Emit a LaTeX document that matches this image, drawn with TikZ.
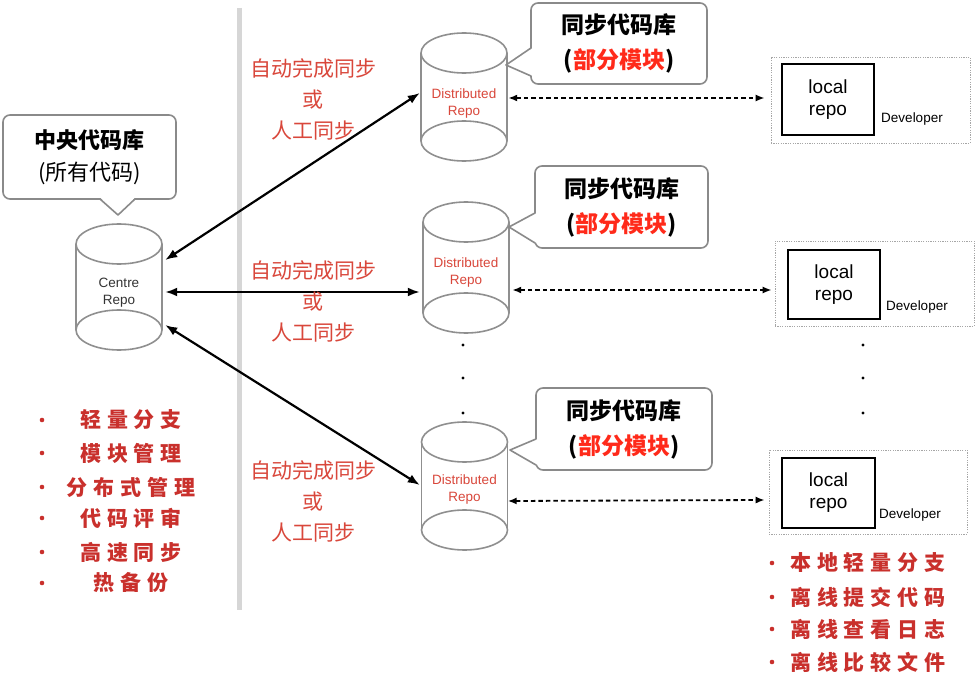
\documentclass[tikz,border=0pt]{standalone}
\usepackage{fontspec}
\setmainfont{Liberation Sans}
\newfontfamily\cjk{Noto Sans CJK SC}
\newfontfamily\cjksp{Noto Sans CJK SC}[LetterSpace=28]
\usetikzlibrary{arrows.meta}
\definecolor{lblred}{HTML}{D9473B}
\definecolor{listred}{HTML}{C9302C}
\definecolor{brightred}{HTML}{FF2A1A}
\definecolor{callgray}{HTML}{8A8A8A}
\definecolor{cylgray}{HTML}{8F8F8F}
\definecolor{divgray}{HTML}{D6D6D6}
\newcommand\repocyl[4]{%
  \node[inner sep=0pt, minimum width=86pt, minimum height={(#4-#3)*1pt}] (#1) at (#2,{(#3+#4)/2}) {};
  \draw[cyl] (#2-43,#3+20) -- (#2-43,#4-20) (#2+43,#3+20) -- (#2+43,#4-20);
  \draw[cyl] (#2,#3+20) ellipse [x radius=43pt, y radius=20pt];
  \draw[cyl] (#2,#4-20) ellipse [x radius=43pt, y radius=20pt];
}
\begin{document}
\begin{tikzpicture}[x=1pt,y=-1pt,
  cyl/.style={draw=cylgray, line width=1.6pt},
  callline/.style={draw=callgray, line width=1.6pt},
  callbox/.style={callline, rounded corners=7pt, fill=white, inner sep=0pt, align=center,
    font={\cjk\fontsize{23}{35}\selectfont\bfseries}},
  syncarrow/.style={line width=2.2pt, {Latex[length=12pt,width=9pt]}-{Latex[length=12pt,width=9pt]}},
  devarrow/.style={line width=1.8pt, dash pattern=on 4.5pt off 3pt, {Latex[length=9pt,width=7pt]}-{Latex[length=9pt,width=7pt]}},
  devbox/.style={draw=gray!70, line width=0.6pt, dash pattern=on 1.2pt off 1.2pt, inner sep=0pt},
  localbox/.style={draw=black, line width=2pt, inner sep=0pt, align=center, font=\fontsize{19}{22}\selectfont},
  devlabel/.style={font=\fontsize{13.5}{15}\selectfont, inner sep=0pt},
  synclabel/.style={text=lblred, align=center, font={\cjk\fontsize{21}{31}\selectfont}},
  listitem/.style={text=listred, font={\cjksp\bfseries\fontsize{21}{24}\selectfont}, inner sep=0pt},
  cyltext/.style={align=center, inner sep=0pt, font=\fontsize{13.5}{17}\selectfont},
  dot/.style={fill=black}
]
\useasboundingbox (0,0) rectangle (975,679);
\fill[white] (0,0) rectangle (975,679);

% divider
\draw[line width=5pt, divgray] (239,8) -- (239,610);

% cylinders
\repocyl{c}{119}{224}{350}
\repocyl{d1}{464}{33}{161}
\repocyl{d2}{466}{202}{333}
\repocyl{d3}{464.5}{422}{550}
\node[cyltext, text=black!80] (ct) at ([yshift=-6]c.center) {Centre\\Repo};
\node[cyltext, text=lblred] (d1t) at ([yshift=-7]d1.center) {Distributed\\Repo};
\node[cyltext, text=lblred] (d2t) at ([yshift=-5]d2.center) {Distributed\\Repo};
\node[cyltext, text=lblred] (d3t) at ([yshift=-4]d3.center) {Distributed\\Repo};

% central callout
\node[callbox, minimum width=173pt, minimum height=84pt, font={\cjk\fontsize{22}{32}\selectfont\bfseries}] (cb0) at (89.5,157)
  {中央代码库\\\mdseries (所有代码)};
\coordinate (tip0) at (118,215);
\fill[white] (100,197.5) -- (tip0) -- (135,197.5) -- cycle;
\draw[callline, line join=round] (100,199) -- (tip0) -- (135,199);

% callouts for distributed repos
\node[callbox, minimum width=176pt, minimum height=81pt] (cb1) at (619,43.5)
  {同步代码库\\(\textcolor{brightred}{部分模块})};
\coordinate (tip1) at (506,65);
\fill[white] (532.5,48) -- (tip1) -- (532.5,76) -- cycle;
\draw[callline, line join=round] (531,48) -- (tip1) -- (531,76);

\node[callbox, minimum width=173pt, minimum height=82pt] (cb2) at (621.5,207)
  {同步代码库\\(\textcolor{brightred}{部分模块})};
\coordinate (tip2) at (509,227);
\fill[white] (536.5,213) -- (tip2) -- (536.5,243) -- cycle;
\draw[callline, line join=round] (535,213) -- (tip2) -- (535,243);

\node[callbox, minimum width=176pt, minimum height=82pt] (cb3) at (624,429)
  {同步代码库\\(\textcolor{brightred}{部分模块})};
\coordinate (tip3) at (510,450);
\fill[white] (537.5,439) -- (tip3) -- (537.5,465) -- cycle;
\draw[callline, line join=round] (536,439) -- (tip3) -- (536,465);

% sync arrows
\draw[syncarrow] ([shift={(3,-27)}]c.east) -- ([shift={(-1,-4)}]d1.west);
\draw[syncarrow] ([shift={(3,5)}]c.east) -- ([shift={(-3,24.5)}]d2.west);
\draw[syncarrow] ([shift={(3,38)}]c.east) -- ([shift={(-1.5,-1)}]d3.west);

% sync labels
\node[synclabel] (s1) at (313,99) {自动完成同步\\或\\人工同步};
\node[synclabel] (s2) at (313,301) {自动完成同步\\或\\人工同步};
\node[synclabel] (s3) at (313,501) {自动完成同步\\或\\人工同步};

% developer boxes
\node[devbox, minimum width=199pt, minimum height=86pt] (dev1) at (870.5,100) {};
\node[localbox, minimum width=92pt, minimum height=71pt] (l1) at (828,99.5) {local\\repo};
\node[devlabel] (dl1) at (912,119) {Developer};

\node[devbox, minimum width=199pt, minimum height=85pt] (dev2) at (874.5,283.5) {};
\node[localbox, minimum width=92pt, minimum height=69pt] (l2) at (834,284.5) {local\\repo};
\node[devlabel] (dl2) at (917,307) {Developer};

\node[devbox, minimum width=198pt, minimum height=84pt] (dev3) at (868,492) {};
\node[localbox, minimum width=93pt, minimum height=70pt] (l3) at (828.5,493) {local\\repo};
\node[devlabel] (dl3) at (910,515) {Developer};

% dashed arrows
\draw[devarrow] ([shift={(1,1)}]d1.east) -- ([shift={(-6,-2)}]dev1.west);
\draw[devarrow] ([shift={(3,22.5)}]d2.east) -- ([shift={(-3,6.5)}]dev2.west);
\draw[devarrow] ([shift={(0,15)}]d3.east) -- ([shift={(-4,8)}]dev3.west);

% ellipsis dots
\foreach \y in {345,378,413} {
  \fill[dot] (463,\y) circle (1.6pt);
  \fill[dot] (863,\y) circle (1.6pt);
}

% left list
\foreach \y/\t in {420/轻量分支, 453/模块管理, 487/分布式管理, 518/代码评审, 552/高速同步, 583/热备份} {
  \fill[listred] (42,\y) circle (2.3pt);
  \node[listitem] at (131,\y) {\t};
}

% right list
\foreach \y/\t in {563/本地轻量分支, 597/离线提交代码, 629/离线查看日志, 662/离线比较文件} {
  \fill[listred] (772,\y) circle (2.3pt);
  \node[listitem, anchor=west] at (790,\y) {\t};
}
\end{tikzpicture}
\end{document}
